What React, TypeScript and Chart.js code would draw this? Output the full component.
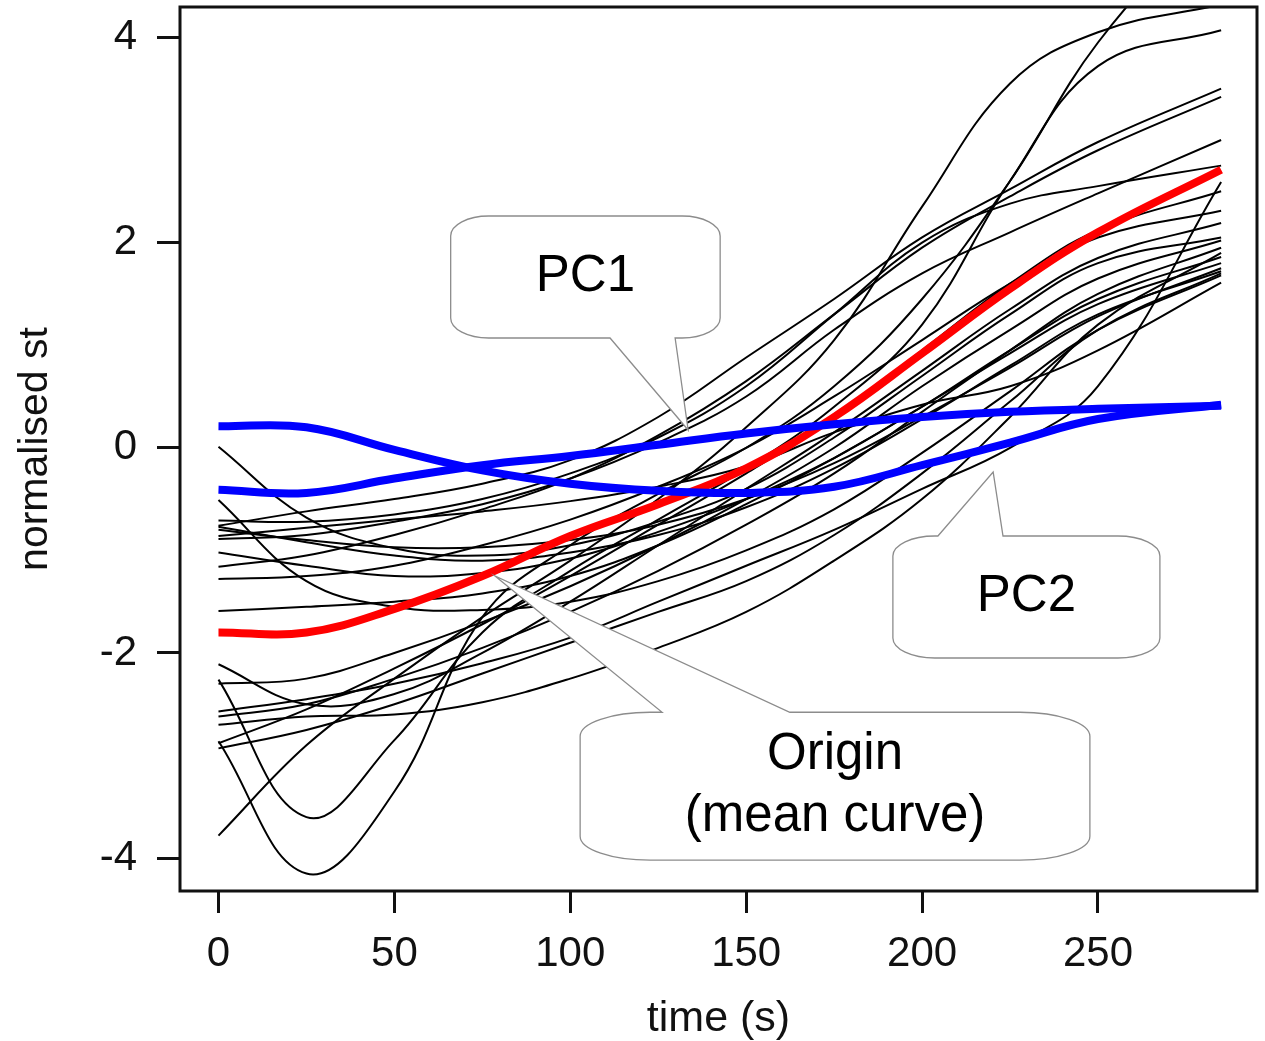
import React, { useEffect, useRef } from 'react';
import { Chart, registerables } from 'chart.js';

Chart.register(...registerables);

// ---------- data ----------
const timeS = [0, 25, 50, 75, 100, 125, 150, 175, 200, 225, 250, 285];
const xTickValues = [0, 50, 100, 150, 200, 250];
const yTickValues = [-4, -2, 0, 2, 4];

const meanCurve = [-1.8, -1.8, -1.57, -1.25, -0.86, -0.55, -0.2, 0.3, 0.92, 1.55, 2.1, 2.71];
const pc1Curve = [-0.41, -0.44, -0.3, -0.17, -0.08, 0.03, 0.14, 0.23, 0.3, 0.35, 0.38, 0.41];
const pc2Curve = [0.21, 0.2, -0.02, -0.22, -0.35, -0.42, -0.44, -0.38, -0.17, 0.05, 0.28, 0.42];

const curve01 = [-3.78, -2.9, -2.25, -1.65, -1.1, -0.5, 0.2, 1.05, 2.35, 3.55, 4.05, 4.32];
const curve02 = [-2.86, -4.15, -3.35, -1.65, -0.95, -0.45, 0.0, 0.6, 1.45, 2.6, 3.95, 5.3];
const curve03 = [-2.26, -3.6, -2.85, -1.8, -1.2, -0.7, -0.2, 0.4, 1.2, 2.6, 3.72, 4.07];
const curve04 = [-0.76, -0.62, -0.5, -0.35, -0.12, 0.3, 0.88, 1.45, 2.05, 2.52, 2.98, 3.5];
const curve05 = [-1.16, -1.05, -0.85, -0.6, -0.3, 0.12, 0.65, 1.3, 1.95, 2.45, 2.9, 3.42];
const curve06 = [-0.89, -0.85, -0.72, -0.55, -0.3, 0.05, 0.5, 1.15, 1.7, 2.1, 2.48, 3.0];
const curve07 = [-0.71, -0.72, -0.65, -0.5, -0.25, 0.1, 0.6, 1.3, 2.0, 2.38, 2.55, 2.75];
const curve08 = [-2.57, -2.45, -2.3, -2.1, -1.85, -1.5, -1.15, -0.8, -0.4, 0.0, 0.6, 2.59];
const curve09 = [-1.28, -1.25, -1.15, -0.95, -0.7, -0.38, 0.0, 0.5, 1.05, 1.6, 2.05, 2.31];
const curve10 = [-2.11, -2.5, -2.4, -2.0, -1.5, -0.95, -0.4, 0.15, 0.75, 1.35, 1.85, 2.19];
const curve11 = [-2.3, -2.25, -2.0, -1.7, -1.35, -0.95, -0.5, 0.0, 0.6, 1.15, 1.65, 2.02];
const curve12 = [-2.62, -2.5, -2.25, -1.95, -1.6, -1.2, -0.75, -0.25, 0.35, 0.95, 1.5, 1.95];
const curve13 = [-1.59, -1.55, -1.5, -1.42, -1.25, -0.95, -0.55, -0.1, 0.4, 0.95, 1.45, 1.86];
const curve14 = [-1.02, -1.15, -1.25, -1.22, -1.08, -0.82, -0.5, -0.1, 0.4, 0.92, 1.4, 1.8];
const curve15 = [-0.77, -0.92, -1.05, -1.1, -1.02, -0.85, -0.58, -0.2, 0.28, 0.8, 1.3, 1.72];
const curve16 = [-2.93, -2.75, -2.5, -2.2, -1.9, -1.6, -1.3, -0.85, -0.25, 0.45, 1.15, 1.7];
const curve17 = [-0.86, -0.78, -0.7, -0.62, -0.52, -0.38, -0.18, 0.15, 0.42, 0.6, 0.95, 1.61];
const curve18 = [-0.8, -0.9, -0.97, -0.97, -0.9, -0.75, -0.5, -0.15, 0.3, 0.78, 1.28, 1.75];
const curve19 = [-2.7, -2.62, -2.6, -2.48, -2.25, -1.95, -1.6, -1.1, -0.5, 0.3, 1.2, 1.9];
const curve20 = [0.01, -0.68, -0.98, -1.05, -0.95, -0.72, -0.4, 0.1, 0.7, 1.3, 1.8, 2.05];
const curve21 = [-0.51, -1.3, -1.55, -1.58, -1.5, -1.3, -1.0, -0.6, -0.05, 0.55, 1.15, 1.68];
const curve22 = [-2.88, -2.55, -2.15, -1.72, -1.25, -0.75, -0.25, 0.3, 0.95, 1.6, 2.12, 2.5];

const sampleCurves = [
  curve01, curve02, curve03, curve04, curve05, curve06, curve07, curve08, curve09, curve10, curve11,
  curve12, curve13, curve14, curve15, curve16, curve17, curve18, curve19, curve20, curve21, curve22,
];

// ---------- annotation callouts (data coordinates) ----------
const callouts = [
  { lines: ['PC1'], x0: 66.0, x1: 142.6, yTop: 2.259, yBottom: 1.07, side: 'bottom', baseX0: 111.3, baseX1: 129.8, tipX: 133.5, tipY: 0.173, rx: 38, ry: 20 },
  { lines: ['PC2'], x0: 191.7, x1: 267.6, yTop: -0.86, yBottom: -2.049, side: 'top', baseX0: 204.5, baseX1: 223.0, tipX: 220.2, tipY: -0.236, rx: 42, ry: 20 },
  { lines: ['Origin', '(mean curve)'], x0: 102.8, x1: 247.7, yTop: -2.578, yBottom: -4.02, side: 'top', baseX0: 126.1, baseX1: 162.4, tipX: 78.6, tipY: -1.249, rx: 70, ry: 24 },
];

const FONT = '"Liberation Sans", Arial, Helvetica, sans-serif';
const INK = '#111111';

const toPoints = (ys: number[]) => ys.map((y, i) => ({ x: timeS[i], y }));

const zeroPadding = (s: any) => {
  s.paddingTop = 0;
  s.paddingBottom = 0;
  s.paddingLeft = 0;
  s.paddingRight = 0;
};

const rPlotPlugin = {
  id: 'rPlotDecor',
  afterDatasetsDraw(chart: any) {
    const { ctx, chartArea: a, scales } = chart;
    const sx = scales.x;
    const sy = scales.y;
    ctx.save();
    for (const c of callouts) {
      const l = sx.getPixelForValue(c.x0);
      const r = sx.getPixelForValue(c.x1);
      const t = sy.getPixelForValue(c.yTop);
      const b = sy.getPixelForValue(c.yBottom);
      const bx0 = sx.getPixelForValue(c.baseX0);
      const bx1 = sx.getPixelForValue(c.baseX1);
      const tx = sx.getPixelForValue(c.tipX);
      const ty = sy.getPixelForValue(c.tipY);
      const rx = c.rx;
      const ry = c.ry;
      ctx.beginPath();
      ctx.moveTo(l + rx, t);
      if (c.side === 'top') {
        ctx.lineTo(bx0, t);
        ctx.lineTo(tx, ty);
        ctx.lineTo(bx1, t);
      }
      ctx.lineTo(r - rx, t);
      ctx.ellipse(r - rx, t + ry, rx, ry, 0, -Math.PI / 2, 0);
      ctx.lineTo(r, b - ry);
      ctx.ellipse(r - rx, b - ry, rx, ry, 0, 0, Math.PI / 2);
      if (c.side === 'bottom') {
        ctx.lineTo(bx1, b);
        ctx.lineTo(tx, ty);
        ctx.lineTo(bx0, b);
      }
      ctx.lineTo(l + rx, b);
      ctx.ellipse(l + rx, b - ry, rx, ry, 0, Math.PI / 2, Math.PI);
      ctx.lineTo(l, t + ry);
      ctx.ellipse(l + rx, t + ry, rx, ry, 0, Math.PI, Math.PI * 1.5);
      ctx.closePath();
      ctx.fillStyle = '#ffffff';
      ctx.fill();
      ctx.strokeStyle = '#8c8c8c';
      ctx.lineWidth = 1.3;
      ctx.stroke();

      ctx.fillStyle = '#000000';
      ctx.font = `51px ${FONT}`;
      ctx.textAlign = 'center';
      ctx.textBaseline = 'middle';
      const cx = (l + r) / 2;
      const cy = (t + b) / 2;
      const n = c.lines.length;
      c.lines.forEach((txt: string, i: number) => {
        ctx.fillText(txt, cx, cy + (i - (n - 1) / 2) * 62);
      });
    }
    ctx.strokeStyle = INK;
    ctx.lineWidth = 3;
    ctx.strokeRect(a.left, a.top, a.right - a.left, a.bottom - a.top);
    ctx.restore();
  },
};

export default function App() {
  const canvasRef = useRef<HTMLCanvasElement | null>(null);

  useEffect(() => {
    if (!canvasRef.current) return;
    const datasets: any[] = [];
    const thick = (label: string, ys: number[], color: string) => ({
      label, data: toPoints(ys), borderColor: color, borderWidth: 8,
      pointRadius: 0, tension: 0.4, fill: false,
    });
    datasets.push(thick('PC1', pc1Curve, '#0000ff'));
    datasets.push(thick('PC2', pc2Curve, '#0000ff'));
    datasets.push(thick('mean', meanCurve, '#ff0000'));
    sampleCurves.forEach((c, i) => {
      datasets.push({
        label: `curve ${i + 1}`, data: toPoints(c), borderColor: '#000000', borderWidth: 2,
        pointRadius: 0, tension: 0.4, fill: false,
      });
    });

    const chart = new Chart(canvasRef.current, {
      type: 'line',
      data: { datasets },
      options: {
        animation: false,
        responsive: false,
        devicePixelRatio: 1,
        events: [],
        layout: { padding: { left: 0, right: 8, top: 7, bottom: 0 } },
        plugins: { legend: { display: false }, tooltip: { enabled: false } },
        scales: {
          x: {
            type: 'linear',
            min: -10.94,
            max: 295.2,
            afterBuildTicks: (s: any) => { s.ticks = xTickValues.map((v) => ({ value: v })); },
            afterFit: (s: any) => { s.height = 150; zeroPadding(s); },
            ticks: {
              color: INK, font: { family: FONT, size: 42 }, padding: 16, maxRotation: 0,
              autoSkip: false, callback: (v: any) => String(v),
            },
            grid: { display: true, drawOnChartArea: false, drawTicks: true, tickLength: 22, color: INK, lineWidth: 3 },
            border: { display: false },
            title: {
              display: true, text: 'time (s)', color: INK,
              font: { family: FONT, size: 43, lineHeight: 1 }, padding: { top: 0, bottom: 0 },
            },
          },
          y: {
            type: 'linear',
            min: -4.32,
            max: 4.296,
            afterBuildTicks: (s: any) => { s.ticks = yTickValues.map((v) => ({ value: v })); },
            afterFit: (s: any) => { s.width = 180; zeroPadding(s); },
            ticks: {
              color: INK, font: { family: FONT, size: 42 }, padding: 20,
              autoSkip: false, callback: (v: any) => String(v),
            },
            grid: { display: true, drawOnChartArea: false, drawTicks: true, tickLength: 23, color: INK, lineWidth: 3 },
            border: { display: false },
            title: {
              display: true, text: 'normalised st', color: INK,
              font: { family: FONT, size: 41, lineHeight: 1 }, padding: { top: 15, bottom: 0 },
            },
          },
        },
      },
      plugins: [rPlotPlugin],
    });
    return () => chart.destroy();
  }, []);

  return (
    <div style={{ position: 'absolute', left: 0, top: 0, width: 1265, height: 1041, background: '#ffffff' }}>
      <canvas ref={canvasRef} width={1265} height={1041} style={{ display: 'block' }} />
    </div>
  );
}
